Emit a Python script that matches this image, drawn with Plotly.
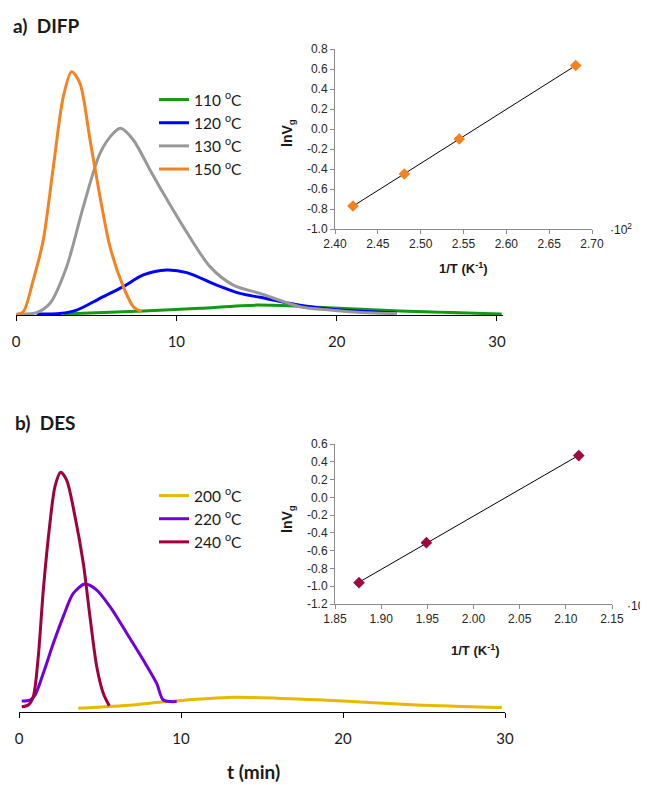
import numpy as np
import plotly.graph_objects as go

# page body has an 8 px margin: figure is drawn 8 px in from the window edge
OFF = 8
W, H = 648 - OFF, 785 - OFF

# ---------------- data ----------------
# a) DIFP chromatograms (t in min, arbitrary signal units)
t_110 = [2.95, 7.94, 11.48, 15.01, 18.75, 23.95, 30.29]
s_110 = [0.004, 0.015, 0.026, 0.038, 0.030, 0.015, 0.004]
t_120 = [1.29, 2.74, 3.79, 5.24, 6.69, 7.94, 9.40, 10.65, 12.52, 13.97, 15.22, 17.7, 20.0, 23.74]
s_120 = [0.004, 0.006, 0.019, 0.064, 0.109, 0.154, 0.173, 0.163, 0.115, 0.083, 0.068, 0.038, 0.020, 0.008]
t_130 = [0.04, 1.29, 2.12, 3.16, 4.20, 5.24, 6.07, 6.53, 7.32, 8.36, 9.19, 10.43, 12.10, 13.55, 15.22, 17.71, 19.58, 21.5, 23.74]
s_130 = [0.004, 0.009, 0.045, 0.186, 0.417, 0.622, 0.699, 0.718, 0.673, 0.558, 0.468, 0.340, 0.186, 0.115, 0.083, 0.032, 0.019, 0.010, 0.006]
t_150 = [0.0, 0.46, 1.08, 1.70, 2.33, 2.95, 3.47, 3.99, 4.62, 5.24, 5.86, 6.69, 7.32, 7.84]
s_150 = [0.0, 0.013, 0.135, 0.288, 0.570, 0.840, 0.936, 0.891, 0.673, 0.455, 0.263, 0.109, 0.032, 0.013]

# b) DES chromatograms
t_200 = [3.66, 7.04, 9.12, 13.23, 19.40, 24.55, 29.80]
s_200 = [0.014, 0.027, 0.040, 0.057, 0.044, 0.027, 0.017]
t_220 = [0.17, 0.68, 0.99, 1.50, 2.12, 2.73, 3.35, 4.07, 4.80, 5.62, 6.65, 7.67, 8.50, 8.91, 9.73]
s_220 = [0.042, 0.046, 0.065, 0.149, 0.264, 0.367, 0.456, 0.492, 0.469, 0.405, 0.303, 0.200, 0.110, 0.046, 0.040]
t_240 = [0.17, 0.57, 0.88, 1.19, 1.50, 1.91, 2.22, 2.57, 2.94, 3.46, 3.97, 4.38, 4.80, 5.20, 5.57]
s_240 = [0.020, 0.027, 0.059, 0.213, 0.469, 0.726, 0.867, 0.922, 0.892, 0.751, 0.572, 0.367, 0.174, 0.072, 0.024]

# insets: lnVg vs 1/T (x10^2)
invT_a = [2.421, 2.481, 2.545, 2.681]
lnVg_a = [-0.77, -0.45, -0.10, 0.635]
invT_b = [1.876, 1.949, 2.114]
lnVg_b = [-0.96, -0.51, 0.47]

main_ticks = [0, 10, 20, 30]
main_ticktext = ["0", "10", "20", "30"]
inset_a_xticks = [2.40, 2.45, 2.50, 2.55, 2.60, 2.65, 2.70]
inset_a_xtext = ["2.40", "2.45", "2.50", "2.55", "2.60", "2.65", "2.70"]
inset_a_yticks = [-1.0, -0.8, -0.6, -0.4, -0.2, 0.0, 0.2, 0.4, 0.6, 0.8]
inset_a_ytext = ["-1.0", "-0.8", "-0.6", "-0.4", "-0.2", "0.0", "0.2", "0.4", "0.6", "0.8"]
inset_b_xticks = [1.85, 1.90, 1.95, 2.00, 2.05, 2.10, 2.15]
inset_b_xtext = ["1.85", "1.90", "1.95", "2.00", "2.05", "2.10", "2.15"]
inset_b_yticks = [-1.2, -1.0, -0.8, -0.6, -0.4, -0.2, 0.0, 0.2, 0.4, 0.6]
inset_b_ytext = ["-1.2", "-1.0", "-0.8", "-0.6", "-0.4", "-0.2", "0.0", "0.2", "0.4", "0.6"]

# ---------------- helpers (window pixel -> paper fraction) ----------------
def px(x):
    return (x - OFF) / W

def py(y):
    return 1 - (y - OFF) / H

MAIN_FONT = "Lato, 'Open Sans', sans-serif"
INSET_FONT = "'Liberation Sans', Arial, sans-serif"

fig = go.Figure()

def chrom(t, s, color, name, xa, ya, legend):
    fig.add_trace(go.Scatter(
        x=t, y=s, mode="lines", name=name,
        line=dict(color=color, width=3, shape="spline", smoothing=0.8),
        xaxis=xa, yaxis=ya, legend=legend, hoverinfo="skip"))

chrom(t_110, s_110, "#129A12", "110 <sup>o</sup>C", "x", "y", "legend")
chrom(t_120, s_120, "#0000FF", "120 <sup>o</sup>C", "x", "y", "legend")
chrom(t_130, s_130, "#989898", "130 <sup>o</sup>C", "x", "y", "legend")
chrom(t_150, s_150, "#F58220", "150 <sup>o</sup>C", "x", "y", "legend")

chrom(t_200, s_200, "#E6B800", "200 <sup>o</sup>C", "x3", "y3", "legend2")
chrom(t_220, s_220, "#7000DC", "220 <sup>o</sup>C", "x3", "y3", "legend2")
chrom(t_240, s_240, "#A0003C", "240 <sup>o</sup>C", "x3", "y3", "legend2")

def inset(xv, yv, color, xa, ya):
    k, b = np.polyfit(xv, yv, 1)
    xl = np.array([min(xv), max(xv)])
    fig.add_trace(go.Scatter(x=xl, y=k * xl + b, mode="lines",
                             line=dict(color="black", width=1),
                             xaxis=xa, yaxis=ya, showlegend=False, hoverinfo="skip"))
    fig.add_trace(go.Scatter(x=xv, y=yv, mode="markers",
                             marker=dict(symbol="diamond", size=9, color=color,
                                         line=dict(width=0)),
                             xaxis=xa, yaxis=ya, showlegend=False, hoverinfo="skip",
                             cliponaxis=False))

inset(invT_a, lnVg_a, "#F58220", "x2", "y2")
inset(invT_b, lnVg_b, "#9E0B3E", "x4", "y4")

main_x = dict(showline=True, linecolor="black", linewidth=1, ticks="outside",
              ticklen=5, tickcolor="black", tickwidth=1, showgrid=False, zeroline=False,
              tickvals=main_ticks, ticktext=main_ticktext, ticklabelstandoff=8,
              tickfont=dict(family=MAIN_FONT, size=15, color="#1a1a1a"))
main_y = dict(visible=False, range=[0, 1], showgrid=False, zeroline=False)

inset_axis = dict(showline=True, linecolor="#8c8c8c", linewidth=1, ticks="outside",
                  ticklen=4, tickcolor="#8c8c8c", showgrid=False, zeroline=False,
                  tickfont=dict(family=INSET_FONT, size=12, color="#262626"))

fig.update_layout(
    width=W, height=H, margin=dict(l=0, r=0, t=0, b=0, autoexpand=False),
    paper_bgcolor="white", plot_bgcolor="rgba(0,0,0,0)",
    xaxis=dict(main_x, domain=[px(16), px(503.4)], range=[0, 30.4], anchor="y"),
    yaxis=dict(main_y, domain=[py(315), py(55)], anchor="x"),
    xaxis3=dict(main_x, domain=[px(19), px(505)], range=[0, 30], anchor="y3"),
    yaxis3=dict(main_y, domain=[py(712), py(452)], anchor="x3"),
    xaxis2=dict(inset_axis, domain=[px(335), px(592)], range=[2.40, 2.70], anchor="y2",
                tickvals=inset_a_xticks, ticktext=inset_a_xtext),
    yaxis2=dict(inset_axis, domain=[py(229), py(49)], range=[-1.0, 0.8], anchor="x2",
                tickvals=inset_a_yticks, ticktext=inset_a_ytext),
    xaxis4=dict(inset_axis, domain=[px(335), px(612)], range=[1.85, 2.15], anchor="y4",
                tickvals=inset_b_xticks, ticktext=inset_b_xtext),
    yaxis4=dict(inset_axis, domain=[py(604), py(444)], range=[-1.2, 0.6], anchor="x4",
                tickvals=inset_b_yticks, ticktext=inset_b_ytext),
    legend=dict(x=px(154), y=py(83), xanchor="left", yanchor="top",
                bgcolor="rgba(0,0,0,0)", itemwidth=30, tracegroupgap=0,
                font=dict(family=MAIN_FONT, size=15.5, color="#1a1a1a")),
    legend2=dict(x=px(154), y=py(479), xanchor="left", yanchor="top",
                 bgcolor="rgba(0,0,0,0)", itemwidth=30, tracegroupgap=0,
                 font=dict(family=MAIN_FONT, size=15.5, color="#1a1a1a")),
    showlegend=True,
)

def note(text, x, y, size, family=MAIN_FONT, xanchor="left", angle=0, color="#1a1a1a"):
    fig.add_annotation(text=text, x=px(x), y=py(y), xref="paper", yref="paper",
                       xanchor=xanchor, yanchor="middle", showarrow=False,
                       textangle=angle, font=dict(family=family, size=size, color=color))

note("<b>a)\u00a0 DIFP</b>", 11, 25, 19)
note("<b>b)\u00a0 DES</b>", 13, 422, 19)
note("<b>t (min)</b>", 253, 771, 19, xanchor="center")

note("<b>1/T (K<sup>-1</sup>)</b>", 463, 268, 13, family=INSET_FONT, xanchor="center")
note("<b>1/T (K<sup>-1</sup>)</b>", 475, 650, 13, family=INSET_FONT, xanchor="center")
note("<b>lnV<sub>g</sub></b>", 288, 133, 14, family=INSET_FONT, xanchor="center", angle=-90)
note("<b>lnV<sub>g</sub></b>", 288, 519, 14, family=INSET_FONT, xanchor="center", angle=-90)
note("\u00b710<sup>2</sup>", 608, 229, 12, family=INSET_FONT)
note("\u00b710<sup>2</sup>", 625, 605, 12, family=INSET_FONT)

fig.write_html("out.html")
